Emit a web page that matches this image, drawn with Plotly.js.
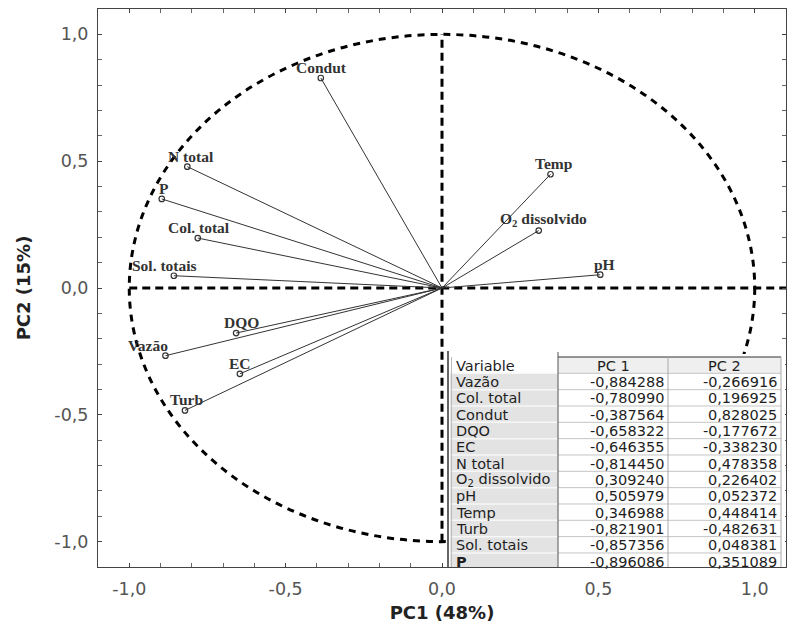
<!DOCTYPE html>
<html>
<head>
<meta charset="utf-8">
<script src="https://cdn.plot.ly/plotly-3.0.1.min.js"></script>
<style>
  html, body { margin: 0; padding: 0; background: #fff; }
  #chart { width: 788px; height: 632px; }
</style>
</head>
<body>
<div id="chart"></div>
<script>
// PCA loadings of the water-quality variables on PC1 and PC2
const variables = ['Vazão', 'Col. total', 'Condut', 'DQO', 'EC', 'N total',
  'O<sub>2</sub> dissolvido', 'pH', 'Temp', 'Turb', 'Sol. totais', 'P'];
const pc1 = [-0.884288, -0.780990, -0.387564, -0.658322, -0.646355, -0.814450,
  0.309240, 0.505979, 0.346988, -0.821901, -0.857356, -0.896086];
const pc2 = [-0.266916, 0.196925, 0.828025, -0.177672, -0.338230, 0.478358,
  0.226402, 0.052372, 0.448414, -0.482631, 0.048381, 0.351089];
const tableHeader = ['Variable', 'PC 1', 'PC 2'];
const tickVals = [-1, -0.5, 0, 0.5, 1];
const tickText = ['-1,0', '-0,5', '0,0', '0,5', '1,0'];

// Horizontal nudge (px) of each variable label relative to its point
const labelShift = [-17, 1, 1, 5, 0, 4, 5, 4, 3, 2, -9, 2];

// Plot-area geometry (px) used to place the loadings table in paper units
const W = 788, H = 632, M = { l: 98, r: 2, t: 9, b: 65 };
const PW = W - M.l - M.r, PH = H - M.t - M.b;
const px = x => (x - M.l) / PW;
const py = y => (H - M.b - y) / PH;

// Each loading vector is a segment from the origin to (pc1, pc2)
const segX = [], segY = [];
pc1.forEach((v, i) => { segX.push(0, v, null); segY.push(0, pc2[i], null); });

const fmt = v => v.toFixed(6).replace('.', ',');

const vectors = {
  type: 'scatter', mode: 'lines', x: segX, y: segY,
  line: { color: '#333', width: 1 }, hoverinfo: 'skip', showlegend: false
};
const tips = {
  type: 'scatter', mode: 'markers', x: pc1, y: pc2,
  marker: { symbol: 'circle-open', size: 5.5, color: '#333', line: { width: 1.2, color: '#333' } },
  showlegend: false
};

// Variable labels next to the vector tips
const serif = 'Liberation Serif, Times New Roman, serif';
const sans = 'DejaVu Sans, Arial, sans-serif';
const annotations = variables.map((name, i) => ({
  x: pc1[i], y: pc2[i], xref: 'x', yref: 'y',
  text: '<b>' + name + '</b>', showarrow: false,
  xanchor: 'center', yanchor: 'bottom', xshift: labelShift[i], yshift: 0,
  font: { family: serif, size: 15.5, color: '#333' }
}));

const dashed = { color: '#000', width: 3, dash: '8px,5px' };
const shapes = [
  { type: 'circle', xref: 'x', yref: 'y', x0: -1, x1: 1, y0: -1, y1: 1, layer: 'below',
    line: { color: '#000', width: 3, dash: '7px,6px' } },
  { type: 'line', xref: 'x', yref: 'y', x0: -1, x1: 1.1, y0: 0, y1: 0, layer: 'below', line: dashed },
  { type: 'line', xref: 'x', yref: 'y', x0: 0, x1: 0, y0: -1, y1: 1, layer: 'below', line: dashed }
];

// Loadings table in the lower-right corner of the plot area
const T = { left: 450, c1: 558, c2: 668, right: 781, top: 357, row: 16.33, bottom: 567 };
const rect = (x0, x1, y0, y1, fill, line) => ({
  type: 'rect', xref: 'paper', yref: 'paper', layer: 'above',
  x0: px(x0), x1: px(x1), y0: py(y1), y1: py(y0),
  fillcolor: fill, line: line || { width: 0 }
});
const seg = (x0, y0, x1, y1, color, width) => ({
  type: 'line', xref: 'paper', yref: 'paper', layer: 'above',
  x0: px(x0), x1: px(x1), y0: py(y0), y1: py(y1),
  line: { color: color, width: width || 1 }
});
const nRows = variables.length + 1;
const rowTop = k => T.top + k * T.row;

shapes.push(rect(T.left - 4, W - M.r - 1, T.top - 3, T.bottom, '#ffffff'));
shapes.push(rect(T.left, T.c1, rowTop(1), T.bottom, '#e3e3e3'));
shapes.push(rect(T.c1, T.right, rowTop(0), rowTop(1), '#efefef'));
for (let k = 1; k < nRows; k++) {
  shapes.push(seg(T.left, rowTop(k), T.c1, rowTop(k), '#f7f7f7', 1.5));
  shapes.push(seg(T.c1, rowTop(k), T.right, rowTop(k), '#c4c4c4', 1));
}
shapes.push(seg(T.c1, T.top - 5, T.c1, T.bottom, '#555', 1));
shapes.push(seg(T.c1, T.top, T.right, T.top, '#333', 1.2));
shapes.push(seg(T.c2, T.top, T.c2, T.bottom, '#a8a8a8', 1));
shapes.push(seg(T.right, T.top, T.right, T.bottom, '#a8a8a8', 1));
shapes.push(seg(T.left - 2, T.top - 6, T.left - 2, T.bottom, '#333', 1.5));
shapes.push(seg(T.left + 1.5, T.top, T.left + 1.5, T.bottom, '#bbbbbb', 1));

const cellFont = { family: sans, size: 14.5, color: '#1e1e1e' };
const cellText = (text, x, k, anchor) => ({
  xref: 'paper', yref: 'paper', x: px(x), y: py(rowTop(k) + T.row / 2 + 0.5),
  text: text, showarrow: false, xanchor: anchor, yanchor: 'middle',
  font: cellFont
});
annotations.push(cellText(tableHeader[0], T.left + 4, 0, 'left'));
annotations.push(cellText(tableHeader[1], (T.c1 + T.c2) / 2, 0, 'center'));
annotations.push(cellText(tableHeader[2], (T.c2 + T.right) / 2, 0, 'center'));
variables.forEach((name, i) => {
  const label = name === 'P' ? '<b>' + name + '</b>' : name;
  annotations.push(cellText(label, T.left + 4, i + 1, 'left'));
  annotations.push(cellText(fmt(pc1[i]), T.c2 - 2, i + 1, 'right'));
  annotations.push(cellText(fmt(pc2[i]), T.right - 2, i + 1, 'right'));
});

const axisCommon = {
  range: [-1.1, 1.1], tickmode: 'array', tickvals: tickVals, ticktext: tickText,
  showgrid: false, zeroline: false,
  showline: true, linecolor: '#444', linewidth: 1, mirror: 'ticks',
  ticks: 'inside', ticklen: 4, tickcolor: '#444', tickwidth: 1,
  minor: { tickmode: 'linear', tick0: 0, dtick: 0.1, ticks: 'inside', ticklen: 4,
    tickcolor: '#666', showgrid: false },
  tickfont: { family: sans, size: 17.5, color: '#555' }
};
const titleFont = { family: sans, size: 18, color: '#222' };

const layout = {
  width: W, height: H,
  margin: M,
  paper_bgcolor: '#fff', plot_bgcolor: '#fff',
  showlegend: false,
  xaxis: Object.assign({}, axisCommon, {
    ticklabelstandoff: 6,
    title: { text: '<b>PC1 (48%)</b>', standoff: 8, font: titleFont }
  }),
  yaxis: Object.assign({}, axisCommon, {
    ticklabelstandoff: 5,
    title: { text: '<b>PC2 (15%)</b>', standoff: 19, font: titleFont }
  }),
  shapes: shapes,
  annotations: annotations
};

Plotly.newPlot('chart', [vectors, tips], layout, { displayModeBar: false, staticPlot: true });
</script>
</body>
</html>
